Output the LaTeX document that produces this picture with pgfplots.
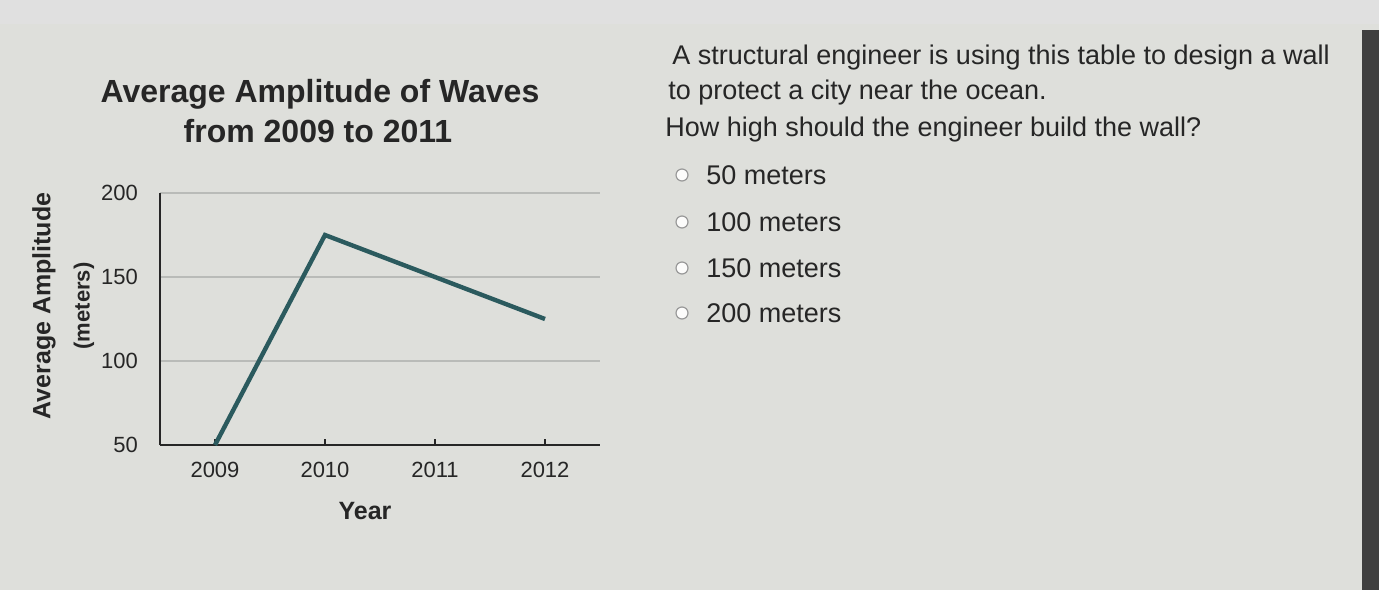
\documentclass[border=0pt]{standalone}
\usepackage{pgfplots}
\pgfplotsset{compat=1.18}
\usepackage{fontspec}
\setmainfont{Liberation Sans}
\definecolor{bgpaper}{HTML}{DEDFDB}
\definecolor{wave}{HTML}{2B5A5E}
\definecolor{gridgray}{HTML}{B9BBB8}
\definecolor{txt}{HTML}{262626}
\begin{document}
\begin{tikzpicture}
% page: 1379 x 590 px at 0.5pt per px
\fill[bgpaper] (0,0) rectangle (689.5pt,295pt);
\fill[black!75] (681pt,0) rectangle (689.5pt,280pt);
\fill[black!12] (0,283pt) rectangle (689.5pt,295pt);

\begin{axis}[
  at={(80pt,72.5pt)}, anchor=origin,
  scale only axis,
  width=220pt, height=126pt,
  xmin=2008.5, xmax=2012.5,
  ymin=50, ymax=200,
  axis lines=left,
  axis line style={-, line width=1.1pt, txt},
  xtick={2009,2010,2011,2012},
  ytick={50,100,150,200},
  x tick style={line width=0.8pt, txt},
  y tick style={draw=none},
  xtick align=inside,
  major tick length=3pt,
  ymajorgrids=true,
  grid style={line width=0.7pt, gridgray},
  tick label style={font=\fontsize{11}{13}\selectfont, text=txt},
  /pgf/number format/assume math mode=true,
  /pgf/number format/1000 sep={},
  xticklabel style={yshift=-5pt},
  yticklabel style={xshift=-6pt},
  clip=false,
]
\addplot[wave, line width=2.2pt, line join=miter] coordinates {
  (2009,50) (2010,175) (2011,150) (2012,125)
};
\end{axis}

% chart titles and labels
\node[font=\fontsize{16}{19}\selectfont\bfseries, text=txt] at (160pt,248pt) {Average Amplitude of Waves};
\node[font=\fontsize{16}{19}\selectfont\bfseries, text=txt] at (159pt,229.5pt) {from 2009 to 2011};
\node[font=\fontsize{12.5}{15}\selectfont\bfseries, text=txt] at (182.5pt,39.5pt) {Year};
\node[rotate=90, font=\fontsize{12.5}{15}\selectfont\bfseries, text=txt] at (22pt,142pt) {Average Amplitude};
\node[rotate=90, font=\fontsize{11}{13}\selectfont\bfseries, text=txt] at (42pt,142pt) {(meters)};

% question text
\begin{scope}[every node/.style={anchor=west, font=\fontsize{13.5}{16}\selectfont, text=txt, inner sep=0pt}]
\node at (336pt,266pt) {A structural engineer is using this table to design a wall};
\node at (334pt,248.5pt) {to protect a city near the ocean.};
\node at (332.5pt,230pt) {How high should the engineer build the wall?};
\end{scope}

% answer options
\foreach \yy/\lab in {207.5/50, 184/100, 161/150, 138.5/200}{
  \draw[black!40, line width=0.6pt, fill=white!90!bgpaper] (341pt,\yy pt) circle (3pt);
  \node[anchor=west, inner sep=0pt, font=\fontsize{13.5}{16}\selectfont, text=txt] at (353pt,\yy pt) {\lab{} meters};
}
\end{tikzpicture}
\end{document}
